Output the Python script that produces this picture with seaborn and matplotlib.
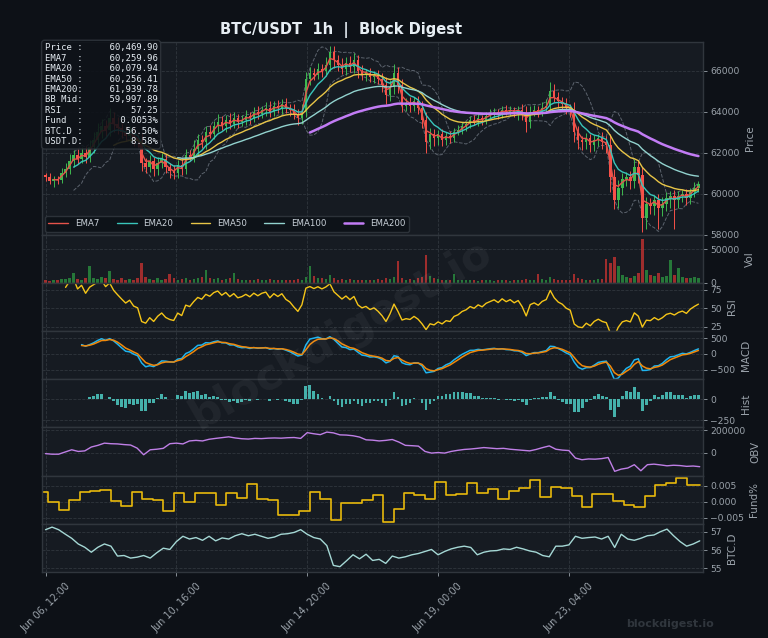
import numpy as np
import pandas as pd
import matplotlib
matplotlib.use("Agg")
import matplotlib.pyplot as plt
import seaborn as sns
from matplotlib.ticker import FixedLocator, MultipleLocator, ScalarFormatter

# ---------------- data (3h bars) ----------------
start_time = "2024-06-06 12:00"
first_open = 60900
closes = [
    60800, 60600, 60700, 60650, 61000, 61200, 61600, 61900, 61700, 62000,
    61800, 62300, 62600, 63000, 63300, 63100, 63700, 63400, 63200, 63000,
    62800, 63000, 62700, 62600, 61500, 61300, 61600, 61200, 61500, 61700,
    61300, 61100, 61000, 61400, 61200, 61900, 61800, 62200, 62600, 62500,
    63000, 62900, 63300, 63500, 63300, 63600, 63400, 63700, 63500, 63600,
    63800, 63700, 64000, 63900, 64100, 64200, 64000, 64300, 64200, 64400,
    64200, 64100, 63900, 63700, 64000, 65600, 65900, 65800, 66100, 66000,
    66300, 66900, 66500, 66300, 66100, 66400, 66200, 66500, 66000, 65800,
    65900, 65700, 65800, 65600, 65300, 64800, 65200, 65900, 65300, 64300,
    64400, 64300, 64500, 64200, 63600, 62500, 62900, 62700, 62900, 62600,
    62800, 62700, 63000, 63100, 63300, 63400, 63600, 63500, 63700, 63600,
    63800, 63900, 64000, 63900, 64100, 64000, 64100, 64000, 64100, 63900,
    63500, 64000, 64100, 64000, 64200, 64300, 65000, 64700, 64500, 64400,
    64200, 64100, 63000, 62600, 62500, 62700, 62400, 62600, 62700, 62500,
    62400, 60800, 59700, 60300, 60700, 60800, 60600, 61300, 60900, 58800,
    59500, 59400, 59700, 59300, 59500, 59800, 59900, 59700, 59900, 60000,
    59800, 60100, 60300, 60470]
up_wick = [
    120, 200, 150, 180, 250, 300, 350, 250, 300, 280,
    350, 300, 400, 450, 350, 300, 500, 300, 350, 250,
    300, 280, 250, 200, 350, 250, 300, 200, 280, 300,
    250, 200, 300, 250, 350, 300, 250, 400, 300, 250,
    300, 350, 250, 400, 300, 250, 350, 300, 200, 250,
    300, 200, 250, 300, 200, 250, 300, 200, 250, 200,
    250, 200, 300, 250, 400, 350, 300, 250, 300, 250,
    350, 300, 300, 250, 300, 250, 300, 350, 250, 300,
    200, 250, 200, 250, 300, 400, 350, 450, 300, 300,
    250, 300, 200, 250, 300, 400, 300, 250, 200, 250,
    200, 250, 200, 250, 200, 150, 200, 250, 200, 150,
    200, 250, 200, 150, 200, 250, 200, 150, 200, 300,
    400, 300, 250, 200, 250, 300, 460, 350, 250, 200,
    250, 200, 350, 300, 200, 250, 200, 250, 200, 300,
    300, 500, 400, 350, 300, 250, 300, 400, 350, 400,
    350, 300, 250, 300, 350, 300, 250, 300, 250, 200,
    250, 200, 250, 150]
down_wick = [
    200, 150, 250, 200, 150, 200, 250, 300, 250, 200,
    300, 250, 300, 250, 300, 350, 300, 400, 300, 300,
    250, 300, 350, 300, 400, 300, 250, 350, 300, 250,
    300, 350, 300, 250, 300, 250, 200, 250, 300, 250,
    300, 200, 250, 300, 200, 300, 250, 200, 300, 200,
    250, 300, 200, 250, 200, 300, 250, 200, 250, 300,
    250, 300, 250, 350, 300, 250, 300, 250, 200, 300,
    250, 300, 350, 300, 250, 300, 250, 300, 350, 250,
    300, 250, 300, 250, 350, 400, 300, 350, 400, 300,
    250, 300, 250, 300, 400, 500, 300, 350, 300, 250,
    200, 250, 200, 150, 200, 250, 200, 150, 200, 250,
    200, 150, 200, 250, 200, 150, 200, 250, 400, 300,
    500, 300, 200, 250, 200, 250, 300, 250, 300, 250,
    300, 350, 500, 400, 350, 300, 350, 300, 250, 300,
    400, 700, 430, 400, 350, 300, 350, 300, 400, 650,
    500, 400, 450, 1000, 400, 350, 500, 1400, 400, 300,
    350, 300, 250, 200]
volume = [
    4000, 3500, 5000, 4500, 6000, 5500, 7000, 15000, 6000, 5000,
    7000, 26000, 8000, 6000, 9000, 7000, 18000, 6000, 5000, 7000,
    5000, 6000, 4500, 8000, 30000, 9000, 6000, 5000, 7000, 5000,
    6000, 14000, 7000, 5000, 6000, 8000, 5000, 6000, 7000, 9000,
    20000, 7000, 6000, 8000, 5000, 6000, 7000, 15000, 6000, 5000,
    4500, 5000, 4000, 6000, 5000, 4500, 5500, 4000, 5000, 4500,
    4000, 5000, 4500, 6000, 5000, 9000, 26000, 10000, 7000, 8000,
    6000, 12000, 7000, 5000, 6000, 5000, 6500, 5000, 4500, 5000,
    4000, 5000, 4500, 6000, 5000, 8000, 6000, 9000, 32000, 7000,
    5000, 6000, 5000, 7000, 9000, 42000, 10000, 7000, 6000, 5000,
    5000, 4500, 14000, 5000, 4000, 4500, 5000, 4000, 3500, 4000,
    4500, 4000, 3500, 4000, 5000, 4000, 3500, 4000, 4500, 5000,
    6000, 5000, 4500, 14000, 6000, 5000, 9000, 6000, 5000, 4500,
    4000, 5000, 14000, 8000, 6000, 5000, 4500, 5000, 6000, 5500,
    35000, 30000, 38000, 25000, 12000, 9000, 8000, 10000, 15000, 66000,
    20000, 12000, 10000, 15000, 9000, 10000, 34000, 12000, 22000, 9000,
    8000, 7000, 9000, 8000]

# 5-hour samples
obv = [
    -10000, -15000, -15000, 5000, 25000, 10000, 15000, 50000, 65000, 85000,
    80000, 78000, 72000, 68000, 40000, -20000, 25000, 30000, 38000, 80000,
    85000, 78000, 105000, 110000, 105000, 120000, 128000, 135000, 142000, 132000,
    125000, 122000, 128000, 126000, 130000, 132000, 130000, 134000, 136000, 128000,
    180000, 170000, 162000, 185000, 178000, 160000, 158000, 152000, 140000, 115000,
    112000, 105000, 110000, 118000, 95000, 65000, 62000, 58000, 10000, -5000,
    0, -5000, 10000, 20000, 28000, 32000, 38000, 45000, 40000, 35000,
    38000, 30000, 25000, 20000, 15000, 28000, 45000, 60000, 30000, 22000,
    18000, -50000, -65000, -58000, -60000, -55000, -45000, -170000, -150000, -140000,
    -110000, -165000, -110000, -105000, -112000, -120000, -115000, -118000, -125000, -122000,
    -128000]
btc_dom = [
    57.11, 57.25, 57.11, 56.87, 56.64, 56.33, 56.15, 55.88, 56.15, 56.33,
    56.21, 55.67, 55.70, 55.56, 55.61, 55.70, 55.56, 55.85, 56.10, 56.03,
    56.46, 56.75, 56.60, 56.68, 56.53, 56.75, 56.50, 56.66, 56.60, 56.78,
    56.89, 56.78, 56.86, 56.75, 56.64, 56.71, 56.86, 56.89, 56.96, 57.11,
    56.86, 56.68, 56.60, 56.24, 55.16, 55.09, 55.41, 55.74, 55.52, 55.77,
    55.43, 55.49, 55.27, 55.67, 55.56, 55.63, 55.74, 55.81, 55.92, 56.03,
    55.74, 55.92, 56.06, 56.15, 56.21, 56.14, 55.74, 55.88, 55.95, 55.97,
    56.06, 56.03, 56.15, 56.06, 55.95, 55.88, 55.70, 55.63, 56.21, 56.21,
    56.28, 56.75, 56.64, 56.68, 56.71, 56.60, 56.75, 56.14, 56.86, 56.60,
    56.53, 56.64, 56.78, 56.82, 57.00, 57.14, 56.78, 56.46, 56.21, 56.33,
    56.50]
# 8-hour funding periods
funding = [
    0.0029, -0.0002, -0.0025, 0.0005, 0.0029, 0.0034, 0.0035, 0.0003, -0.0014, 0.0031,
    0.0007, 0.0005, -0.0029, 0.0026, -0.0002, 0.0027, 0.0027, -0.0010, 0.0026, 0.0010,
    0.0054, 0.0007, 0.0005, -0.0042, -0.0042, -0.0028, 0.0029, 0.0007, -0.0057, -0.0005,
    -0.0005, 0.0005, 0.0021, -0.0063, -0.0024, 0.0026, 0.0021, 0.0008, 0.0060, 0.0021,
    0.0025, 0.0058, 0.0028, 0.0040, 0.0008, 0.0032, 0.0042, 0.0066, 0.0016, 0.0047,
    0.0041, 0.0018, -0.0016, 0.0023, 0.0023, 0.0003, -0.0011, -0.0016, 0.0018, 0.0052,
    0.0057, 0.0073, 0.0053]

info_labels = ["Price", "EMA7", "EMA20", "EMA50", "EMA200", "BB Mid", "RSI", "Fund", "BTC.D", "USDT.D"]
info_values = ["60,469.90", "60,259.96", "60,079.94", "60,256.41", "61,939.78",
               "59,997.89", "57.25", "0.0053%", "56.50%", "8.58%"]
ema_periods = [7, 20, 50, 100, 200]
ema_colors = ["#e5534b", "#39c5bb", "#e8c547", "#92d3cf", "#c27cf5"]
panel_labels = ["Price", "Vol", "RSI", "MACD", "Hist", "OBV", "Fund%", "BTC.D"]
tick_hours = [0, 100, 200, 300, 400]

# ---------------- derived ----------------
STEP = 499 / (len(closes) - 1)          # hours per bar
n = len(closes)
xh = np.arange(n) * STEP
c = np.array(closes, float)
o = np.r_[first_open, c[:-1]]
hi = np.maximum(o, c) + np.array(up_wick)
lo = np.minimum(o, c) - np.array(down_wick)
up = c >= o
s = pd.Series(c)


def a_bar(period, wilder=False):
    a_h = 1.0 / period if wilder else 2.0 / (period + 1)
    return 1 - (1 - a_h) ** STEP


def ema(series, period):
    return series.ewm(alpha=a_bar(period), adjust=False).mean()


emas = {p: ema(s, p) for p in ema_periods}
d = s.diff()
RSI_ALPHA = 1 / 9
ag = d.clip(lower=0).ewm(alpha=RSI_ALPHA, adjust=True).mean()
al = (-d.clip(upper=0)).ewm(alpha=RSI_ALPHA, adjust=True).mean()
rsi = 100 - 100 / (1 + ag / al)
macd = ema(s, 12) - ema(s, 26)
sig = macd.ewm(alpha=a_bar(9), adjust=False).mean()
hist = macd - sig
win = int(round(20 / STEP))
bb_mid = s.rolling(win).mean()
bb_std = s.rolling(win).std(ddof=0)
bb_up, bb_lo = bb_mid + 2 * bb_std, bb_mid - 2 * bb_std

x5 = np.arange(len(obv)) * 5.0
fx = np.r_[-6 + 8 * np.arange(len(funding)), 500]
fy = np.r_[funding, funding[-1]]

# ---------------- style ----------------
BG, PANEL, GRID, TXT, MUTED = "#0d1117", "#161b22", "#30363d", "#e6edf3", "#9ba3ab"
sns.set_theme(style="dark")
plt.rcParams.update({
    "figure.facecolor": BG, "axes.facecolor": PANEL, "axes.edgecolor": GRID,
    "text.color": TXT, "axes.labelcolor": MUTED, "xtick.color": MUTED, "ytick.color": MUTED,
    "font.family": ["DejaVu Sans"], "axes.unicode_minus": True,
})

fig = plt.figure(figsize=(7.68, 6.38), dpi=100)
gs = fig.add_gridspec(8, 1, height_ratios=[4, 1, 1, 1, 1, 1, 1, 1],
                      left=42 / 768, right=703 / 768, top=1 - 42 / 638,
                      bottom=1 - 572 / 638, hspace=0)
axes = [fig.add_subplot(gs[0])]
for i in range(1, 8):
    axes.append(fig.add_subplot(gs[i], sharex=axes[0]))
axp, axv, axr, axm, axh, axo, axf, axb = axes

# price candles
col = np.where(up, "#3fb950", "#f85149")
axp.vlines(xh, lo, hi, colors=col, linewidth=0.7, zorder=2)
axp.bar(xh, np.maximum(np.abs(c - o), 40), bottom=np.minimum(o, c), width=STEP * 0.6,
        color=col, linewidth=0, zorder=3)
for p, clr in zip(ema_periods, ema_colors):
    m = xh >= p - 1
    sns.lineplot(x=xh[m], y=emas[p].values[m], ax=axp, color=clr,
                 linewidth=1.8 if p == 200 else 1.0, label=f"EMA{p}",
                 estimator=None, errorbar=None, zorder=4)
m = xh >= 19
axp.plot(xh[m], bb_up.values[m], ls="--", lw=0.7, color="#6e7681", alpha=0.8, zorder=1)
axp.plot(xh[m], bb_lo.values[m], ls="--", lw=0.7, color="#6e7681", alpha=0.8, zorder=1)
axp.set_ylim(58000, 67400)
axp.yaxis.set_major_locator(MultipleLocator(2000))
leg = axp.legend(loc="lower left", ncol=5, fontsize=6.2, frameon=True, facecolor=BG,
                 edgecolor=GRID, labelcolor="#c9d1d9", handlelength=2.3,
                 columnspacing=2.0, borderaxespad=0.35)
leg.get_frame().set_alpha(0.9)

info = "\n".join(f"{lab:<6}:{val:>14}" for lab, val in zip(info_labels, info_values))
axp.text(0.004, 0.993, info, transform=axp.transAxes, va="top", ha="left",
         family="DejaVu Sans Mono", fontsize=6.4, color=TXT, zorder=10,
         bbox=dict(boxstyle="round,pad=0.35", fc=BG, ec=GRID, alpha=0.88))

# volume
vcol = np.where(up, "#2ea043", "#da3633")
axv.bar(xh, volume, width=STEP * 0.6, color=vcol, alpha=0.7, linewidth=0)
axv.set_ylim(0, 72000)
axv.yaxis.set_major_locator(FixedLocator([0, 50000]))

# RSI
m = xh >= 13
sns.lineplot(x=xh[m], y=rsi.values[m], ax=axr, color="#f5c518", linewidth=1.0,
             estimator=None, errorbar=None)
axr.set_ylim(19, 84)
axr.yaxis.set_major_locator(FixedLocator([25, 50, 75]))

# MACD
m = xh >= 25
sns.lineplot(x=xh[m], y=macd.values[m], ax=axm, color="#1fb4ef", linewidth=1.1,
             estimator=None, errorbar=None)
sns.lineplot(x=xh[m], y=sig.values[m], ax=axm, color="#f0880a", linewidth=1.1,
             estimator=None, errorbar=None)
axm.set_ylim(-810, 720)
axm.yaxis.set_major_locator(FixedLocator([-500, 0, 500]))

# Hist
m = xh >= 33
axh.bar(xh[m], hist.values[m], width=STEP * 0.7, color="#4ecdc4", alpha=0.85, linewidth=0)
axh.set_ylim(-337, 237)
axh.yaxis.set_major_locator(FixedLocator([-250, 0]))

# OBV
sns.lineplot(x=x5, y=obv, ax=axo, color="#bf7fe6", linewidth=1.0,
             estimator=None, errorbar=None)
axo.set_ylim(-209000, 227000)
axo.yaxis.set_major_locator(FixedLocator([0, 200000]))

# Funding
axf.plot(fx, fy, drawstyle="steps-post", color="#e8b90c", linewidth=1.2)
axf.set_ylim(-0.0069, 0.0081)
axf.yaxis.set_major_locator(FixedLocator([-0.005, 0.0, 0.005]))

# BTC dominance
sns.lineplot(x=x5, y=btc_dom, ax=axb, color="#a5d8d5", linewidth=1.0,
             estimator=None, errorbar=None)
axb.set_ylim(54.8, 57.43)
axb.yaxis.set_major_locator(FixedLocator([55, 56, 57]))

t0 = pd.Timestamp(start_time)
tick_labels = [(t0 + pd.Timedelta(hours=h)).strftime("%b %d, %H:%M") for h in tick_hours]

for ax, lab in zip(axes, panel_labels):
    ax.set_facecolor(PANEL)
    ax.grid(True, ls="--", lw=0.6, color=GRID, alpha=1)
    for sp in ax.spines.values():
        sp.set_color(GRID)
        sp.set_linewidth(1.0)
    ax.yaxis.tick_right()
    ax.yaxis.set_label_position("right")
    ax.set_ylabel(lab, fontsize=7.5, color=MUTED, labelpad=4)
    ax.tick_params(axis="y", right=True, left=False, length=3, width=0.6,
                   labelsize=6.6, colors=MUTED, pad=2)
    ax.tick_params(axis="x", bottom=True, length=3, width=0.6, colors=MUTED)
    fmt = ScalarFormatter(useOffset=False)
    fmt.set_scientific(False)
    ax.yaxis.set_major_formatter(fmt)
    if ax is not axb:
        ax.tick_params(axis="x", labelbottom=False)
    ax.set_xlabel("")
for ax in axes[1:]:
    if ax.get_legend() is not None:
        ax.get_legend().remove()

axb.xaxis.set_major_locator(FixedLocator(tick_hours))
axb.set_xticklabels(tick_labels, rotation=45, ha="center", fontsize=7, color=MUTED)
axb.set_xlim(-2.7, 502.5)

fig.text(0.444, 0.953, "BTC/USDT  1h  |  Block Digest", ha="center", va="center",
         fontsize=10.5, fontweight="bold", color=TXT)
fig.text(0.443, 0.475, "blockdigest.io", rotation=30, ha="center", va="center",
         fontsize=31, fontweight="bold", color="white", alpha=0.05)
fig.text(0.93, 0.022, "blockdigest.io", ha="right", va="center", fontsize=8,
         fontweight="bold", color="#30363d")

fig.savefig("out.png", dpi=100, facecolor=BG)
